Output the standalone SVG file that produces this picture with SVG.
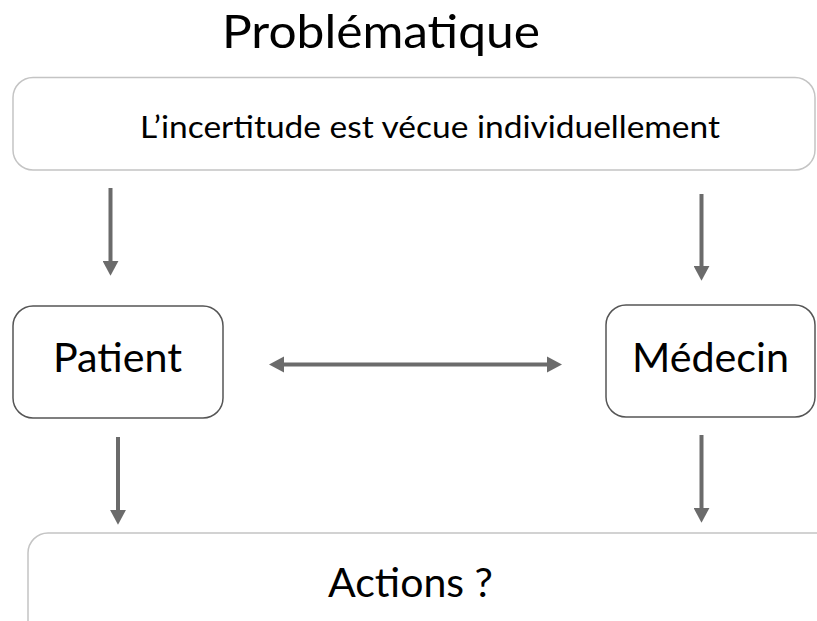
<svg xmlns="http://www.w3.org/2000/svg" width="817" height="621" viewBox="0 0 817 621">
<defs>
<style>
.t{font-family:Lato,"Open Sans","Liberation Sans",sans-serif;fill:#000;}
.box{fill:#fff;stroke-width:1.5;}
.light{stroke:#c4c4c4;}
.dark{stroke:#555;}
.conn{stroke:#6b6b6b;stroke-width:4;fill:none;}
</style>
<marker id="ah" markerUnits="userSpaceOnUse" markerWidth="16" markerHeight="16" refX="1" refY="7" orient="auto-start-reverse" viewBox="0 0 14 14">
<path d="M0,0 L13,7 L0,14 z" fill="#6b6b6b"/>
</marker>
<marker id="ah2" markerUnits="userSpaceOnUse" markerWidth="16" markerHeight="18" refX="1" refY="8" orient="auto-start-reverse" viewBox="0 0 16 16">
<path d="M0,0 L15,8 L0,16 z" fill="#6b6b6b"/>
</marker>
</defs>
<rect width="817" height="621" fill="#fff"/>
<text id="title" class="t" x="222" y="48" font-size="47" textLength="318" lengthAdjust="spacingAndGlyphs">Problématique</text>
<g id="top-node">
<rect class="box light" x="13" y="77.5" width="802" height="92.5" rx="20"/>
<text class="t" x="140" y="138" font-size="30" textLength="580" lengthAdjust="spacingAndGlyphs">L’incertitude est vécue individuellement</text>
</g>
<g id="patient">
<rect class="box dark" x="13" y="306" width="210" height="112" rx="20"/>
<text class="t" x="53" y="372" font-size="41" textLength="129" lengthAdjust="spacingAndGlyphs">Patient</text>
</g>
<g id="medecin">
<rect class="box dark" x="606" y="305" width="209" height="112" rx="20"/>
<text class="t" x="632" y="372" font-size="41" textLength="157" lengthAdjust="spacingAndGlyphs">Médecin</text>
</g>
<g id="actions">
<rect class="box light" x="28" y="533" width="820" height="120" rx="20"/>
<text class="t" x="328" y="597" font-size="41" textLength="165" lengthAdjust="spacingAndGlyphs">Actions ?</text>
</g>
<g id="connectors">
<line class="conn" x1="110.5" y1="188" x2="110.5" y2="262" marker-end="url(#ah)"/>
<line class="conn" x1="701.5" y1="194" x2="701.5" y2="267" marker-end="url(#ah)"/>
<line class="conn" x1="118" y1="437" x2="118" y2="511" marker-end="url(#ah)"/>
<line class="conn" x1="701.5" y1="435" x2="701.5" y2="509" marker-end="url(#ah)"/>
<line class="conn" x1="283" y1="364.5" x2="548" y2="364.5" stroke-width="5" marker-start="url(#ah2)" marker-end="url(#ah2)"/>
</g>
</svg>
